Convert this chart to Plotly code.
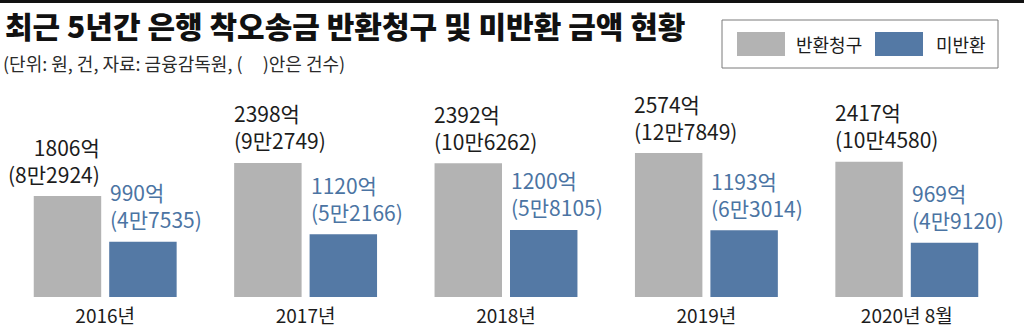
import plotly.graph_objects as go

# 연도별 착오송금 반환청구 / 미반환 금액(억원)과 건수
years = ["2016년", "2017년", "2018년", "2019년", "2020년 8월"]
request_amount = [1806, 2398, 2392, 2574, 2417]
request_count = ["8만2924", "9만2749", "10만6262", "12만7849", "10만4580"]
unreturned_amount = [990, 1120, 1200, 1193, 969]
unreturned_count = ["4만7535", "5만2166", "5만8105", "6만3014", "4만9120"]

GRAY = "#b3b3b3"
BLUE = "#5479a5"
BLUE_TEXT = "#4b74a3"
DARK = "#1c1c1c"

W, H = 1024, 327
ML, MR, MT, MB = 5, 17, 80, 30
PLOT_W = W - ML - MR
PLOT_H = H - MT - MB

KR = "Noto Sans CJK KR"
LABEL_SIZE = 21


def px_x(x):
    return (x - ML) / PLOT_W


def px_y(y):
    return (H - MB - y) / PLOT_H


fig = go.Figure()
fig.add_trace(go.Bar(x=years, y=request_amount, name="반환청구",
                     marker=dict(color=GRAY, line=dict(width=0))))
fig.add_trace(go.Bar(x=years, y=unreturned_amount, name="미반환",
                     marker=dict(color=BLUE, line=dict(width=0))))

annotations = []
# 막대 위 값 라벨 (두 줄: 금액, 건수)
for i, yr in enumerate(years):
    if i == 0:
        xa, xs, al = "right", -3, "right"
    else:
        xa, xs, al = "left", -74, "left"
    annotations.append(dict(x=yr, y=request_amount[i], xref="x", yref="y",
                            text=f"{request_amount[i]}억<br>({request_count[i]})",
                            showarrow=False, align=al,
                            xanchor=xa, yanchor="middle", xshift=xs, yshift=36,
                            font=dict(family=KR, size=LABEL_SIZE, color=DARK)))
    annotations.append(dict(x=yr, y=unreturned_amount[i], xref="x", yref="y",
                            text=f"{unreturned_amount[i]}억<br>({unreturned_count[i]})",
                            showarrow=False, align="left",
                            xanchor="left", yanchor="middle", xshift=3, yshift=36,
                            font=dict(family=KR, size=LABEL_SIZE, color=BLUE_TEXT)))

# 제목과 부제
annotations.append(dict(x=px_x(3), y=px_y(25), xref="paper", yref="paper",
                        text="최근 5년간 은행 착오송금 반환청구 및 미반환 금액 현황",
                        showarrow=False, xanchor="left", yanchor="middle",
                        font=dict(family=KR, size=30, color="#111111", weight=900)))
annotations.append(dict(x=px_x(1), y=px_y(63), xref="paper", yref="paper",
                        text="(단위: 원, 건, 자료: 금융감독원, (\u00a0\u00a0\u00a0\u00a0\u00a0)안은 건수)",
                        showarrow=False, xanchor="left", yanchor="middle",
                        font=dict(family=KR, size=18, color="#2a2a2a")))

# 상단 띠와 범례 상자
shapes = [
    dict(type="rect", xref="paper", yref="paper", x0=px_x(0), x1=px_x(W),
         y0=px_y(3), y1=px_y(0), fillcolor="#111111", line=dict(width=0)),
    dict(type="rect", xref="paper", yref="paper", x0=px_x(722), x1=px_x(998),
         y0=px_y(68), y1=px_y(20), fillcolor="white",
         line=dict(color="#7a7a7a", width=1)),
    dict(type="rect", xref="paper", yref="paper", x0=px_x(737), x1=px_x(785),
         y0=px_y(56), y1=px_y(32), fillcolor=GRAY, line=dict(width=0)),
    dict(type="rect", xref="paper", yref="paper", x0=px_x(875), x1=px_x(923),
         y0=px_y(56), y1=px_y(32), fillcolor=BLUE, line=dict(width=0)),
]
annotations.append(dict(x=px_x(794), y=px_y(44), xref="paper", yref="paper",
                        text="반환청구", showarrow=False, xanchor="left",
                        yanchor="middle", font=dict(family=KR, size=18, color=DARK)))
annotations.append(dict(x=px_x(934), y=px_y(44), xref="paper", yref="paper",
                        text="미반환", showarrow=False, xanchor="left",
                        yanchor="middle", font=dict(family=KR, size=18, color=DARK)))

fig.update_layout(
    width=W, height=H,
    margin=dict(l=ML, r=MR, t=MT, b=MB, autoexpand=False),
    paper_bgcolor="white", plot_bgcolor="white",
    barmode="group", bargap=0.247, bargroupgap=0.106,
    showlegend=False,
    xaxis=dict(showgrid=False, zeroline=False, showline=False, ticks="",
               tickfont=dict(family=KR, size=19, color=DARK),
               ticklabelstandoff=6),
    yaxis=dict(range=[0, PLOT_H * 1806 / 101], visible=False, fixedrange=True),
    annotations=annotations,
    shapes=shapes,
)

fig.write_html("out.html")
